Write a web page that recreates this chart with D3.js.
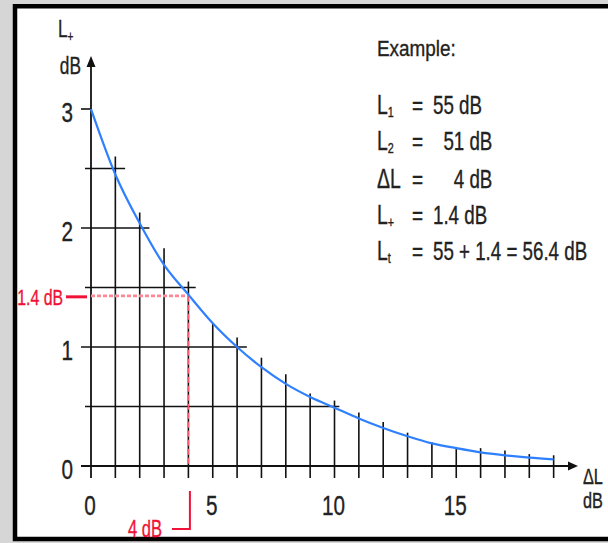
<!DOCTYPE html>
<html><head><meta charset="utf-8">
<script src="https://cdn.jsdelivr.net/npm/d3@7/dist/d3.min.js"></script>
<style>
body{margin:0;background:#d6d6d6;}
svg{display:block;}
text{font-family:'Liberation Sans',Arial,sans-serif;fill:#222;stroke:#222;stroke-width:0.35px;white-space:pre;}
</style></head>
<body>
<svg id="chart" width="608" height="543"></svg>
<script>
// ---- data ----
const curveX = [0,1,2,3,4,5,6,7,8,9,10,11,12,13,14,15,16,17,18,19];
const curveY = [3.00,2.45,2.04,1.69,1.44,1.20,1.00,0.83,0.69,0.58,0.49,0.40,0.32,0.25,0.19,0.15,0.115,0.09,0.07,0.055];
const gridX = [1,2,3,4,5,6,7,8,9,10,11,12,13,14,15,16,17,18,19];
const gridXTop = [2.60,2.13,1.83,1.55,1.20,1.08,0.91,0.77,0.61,0.55,0.45,0.37,0.28,0.20,0.16,0.15,0.13,0.10,0.09];
const gridY = [0.5,1,1.5,2,2.5];
const gridYEnd = [10.2,6.4,4.3,2.4,1.4];
const xTickLabels = [0,5,10,15];
const yTickLabels = [0,1,2,3];
const yTickMarks = [3];
const exampleTitle = "Example:";
const exampleSymbols = ["L","L","\u0394L","L","L"];
const exampleSubs = ["1","2","","+","t"];
const exampleValues = ["55 dB","  51 dB","    4 dB","1.4 dB","55 + 1.4 = 56.4 dB"];
const annoDeltaL = 4;      // dB
const annoLplus = 1.43;    // where the dashed line sits in the picture
const annoLabelY = "1.4 dB";
const annoLabelX = "4 dB";

const svg = d3.select("#chart");
const W = 608, H = 543;

// narrow text helper (condensed look of the original)
function ntext(parent, x, y, fs, anchor, sx){
  const gg = parent.append("g").attr("transform",`translate(${x},${y}) scale(${sx},1)`);
  return gg.append("text").attr("x",0).attr("y",0).attr("font-size",fs).attr("text-anchor",anchor);
}

// background panel
svg.append("rect").attr("x",0).attr("y",0).attr("width",W).attr("height",H).attr("fill","#d6d6d6");
svg.append("rect").attr("x",15).attr("y",6.25).attr("width",640).attr("height",532.75)
  .attr("fill","#fff").attr("stroke","#000").attr("stroke-width",4.5);

const x = d3.scaleLinear().domain([0,19]).range([91, 91+19*24.35]);
const y = d3.scaleLinear().domain([0,3]).range([466,109]);

const ink = "#111";
const g = svg.append("g");

// horizontal grid lines (half steps start closer to the axis)
g.selectAll(".hg").data(gridY).enter().append("line")
  .attr("x1", d => Number.isInteger(d) ? x(0)-10 : x(0)-6)
  .attr("x2", (d,i) => x(gridYEnd[i]))
  .attr("y1", d => y(d)).attr("y2", d => y(d))
  .attr("stroke", ink).attr("stroke-width",1.6);

// vertical grid lines
g.selectAll(".vg").data(gridX).enter().append("line")
  .attr("x1", d => x(d)).attr("x2", d => x(d))
  .attr("y1", y(0)+12).attr("y2", (d,i) => y(gridXTop[i]))
  .attr("stroke", ink).attr("stroke-width",1.6);

// y tick at 3
g.selectAll(".yt").data(yTickMarks).enter().append("line")
  .attr("x1", x(0)-10).attr("x2", x(0)).attr("y1", d=>y(d)).attr("y2", d=>y(d))
  .attr("stroke", ink).attr("stroke-width",1.6);

// axes lines with arrows
g.append("line").attr("x1", x(0)).attr("x2", x(0)).attr("y1", y(0)+12).attr("y2", 64)
  .attr("stroke", ink).attr("stroke-width",1.8);
g.append("path").attr("d", `M${x(0)},56 L${x(0)-4.5},67 L${x(0)+4.5},67 Z`).attr("fill", ink);
g.append("line").attr("x1", x(0)-10).attr("x2", 572).attr("y1", y(0)).attr("y2", y(0))
  .attr("stroke", ink).attr("stroke-width",1.8);
g.append("path").attr("d", `M578,${y(0)} L568,${y(0)-4.5} L568,${y(0)+4.5} Z`).attr("fill", ink);

// red dashed annotation lines
g.append("line").attr("x1", x(0)).attr("x2", x(annoDeltaL)).attr("y1", y(annoLplus)).attr("y2", y(annoLplus))
  .attr("stroke","#ff8797").attr("stroke-width",2.6).attr("stroke-dasharray","4,2");
g.append("line").attr("x1", x(annoDeltaL)).attr("x2", x(annoDeltaL)).attr("y1", y(annoLplus)).attr("y2", y(0))
  .attr("stroke","#ff5a70").attr("stroke-width",1.5).attr("stroke-dasharray","6,3");

// curve
const line = d3.line().x((d,i)=>x(curveX[i])).y(d=>y(d)).curve(d3.curveMonotoneX);
g.append("path").datum(curveY).attr("d", line).attr("fill","none")
  .attr("stroke","#2f80ff").attr("stroke-width",2.2);

// axes tick labels via d3 axes
const xAxis = d3.axisBottom(x).tickValues(xTickLabels).tickSize(0).tickFormat(d3.format("d"));
const xa = svg.append("g").attr("transform",`translate(-1.5,${y(0)})`).call(xAxis);
xa.select(".domain").remove();
xa.selectAll("text").attr("y",0).attr("dy",0).attr("font-size",28)
  .attr("transform","translate(0,49) scale(0.74,1)")
  .style("font-family","'Liberation Sans',Arial,sans-serif").attr("fill","#222");

const yAxis = d3.axisLeft(y).tickValues(yTickLabels).tickSize(0).tickFormat(d3.format("d"));
const ya = svg.append("g").attr("transform",`translate(73,0)`).call(yAxis);
ya.select(".domain").remove();
ya.selectAll("text").attr("x",0).attr("dy",0).attr("font-size",28)
  .attr("transform","translate(0,12) scale(0.74,1)")
  .style("font-family","'Liberation Sans',Arial,sans-serif").attr("fill","#222");

// axis titles
const lt = ntext(svg, 58, 37, 24, "start", 0.72);
lt.append("tspan").text("L");
lt.append("tspan").attr("font-size",14).attr("dy",4).text("+");
ntext(svg, 81, 74, 24, "end", 0.72).text("dB");
ntext(svg, 583, 484, 22, "start", 0.74).text("\u0394L");
ntext(svg, 583, 508, 22, "start", 0.74).text("dB");

// red labels
const red = "#f01237";
ntext(svg, 63, 305, 22, "end", 0.72).style("fill",red).style("stroke",red).text(annoLabelY);
svg.append("line").attr("x1",66).attr("x2",87).attr("y1",y(annoLplus)+1).attr("y2",y(annoLplus)+1)
  .attr("stroke",red).attr("stroke-width",3);
ntext(svg, 162, 537, 23, "end", 0.72).style("fill",red).style("stroke",red).text(annoLabelX);
svg.append("path").attr("d",`M${x(annoDeltaL)+1.5},491 L${x(annoDeltaL)+1.5},529 L172,529`)
  .attr("fill","none").attr("stroke",red).attr("stroke-width",2);

// example block
ntext(svg, 377, 56, 22, "start", 0.86).text(exampleTitle);
const rowBase = [114,150,188,224,260];
exampleSymbols.forEach((s,i)=>{
  const t = ntext(svg, 377, rowBase[i], 27, "start", 0.72);
  t.append("tspan").text(s);
  if (exampleSubs[i]) t.append("tspan").attr("font-size",15).attr("dy",3).text(exampleSubs[i]);
  ntext(svg, 412, rowBase[i], 25, "start", 0.76).text("=");
  ntext(svg, 433, rowBase[i], 25, "start", 0.75).text(exampleValues[i]);
});
</script>
</body></html>
